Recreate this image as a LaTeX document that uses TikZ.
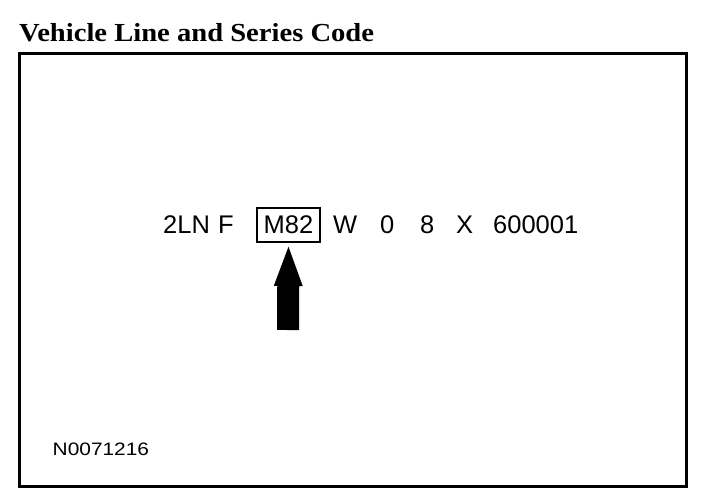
\documentclass[tikz,border=0pt]{standalone}
\usepackage{fontspec}
\setmainfont{Liberation Serif}
\setsansfont{Liberation Sans}
\usetikzlibrary{arrows.meta}
\tikzset{
  every node/.style={inner sep=0pt},
  title/.style={anchor=base west, xscale=1.1,
    font=\rmfamily\bfseries\fontsize{26}{30}\selectfont},
  code/.style={anchor=base west, font=\sffamily\fontsize{25.5}{30}\selectfont},
  code box/.style={code, anchor=center, draw, line width=2pt,
    minimum width=63pt, minimum height=34pt},
  figno/.style={anchor=base west, xscale=1.16,
    font=\sffamily\fontsize{18}{20}\selectfont},
  frame/.style={line width=3pt},
  big arrow/.style={line width=22pt, -{Triangle[width=25pt, length=43pt]}}
}

\begin{document}
\begin{tikzpicture}[x=1pt, y=-1pt]
  \useasboundingbox (0,0) rectangle (704,498);

  \node[title] (head) at (19,41) {Vehicle Line and Series Code};
  \draw[frame] (19,53) rectangle (686,486);

  % code digits
  \node[code] (wmi) at (163,233) {2LN};
  \node[code] (restr) at (218,233) {F};
  \node[code box] (mbox) at (288.5,225) {M82};
  \node[code] (body) at (333,233) {W};
  \node[code] (engine) at (380,233) {0};
  \node[code] (year) at (420,233) {8};
  \node[code] (plant) at (456,233) {X};
  \node[code] (serial) at (493,233) {600001};

  \coordinate (tail) at (288,330);
  \draw[big arrow] (tail) -- (mbox.south);

  \node[figno] (num) at (52.5,455) {N0071216};
\end{tikzpicture}
\end{document}
